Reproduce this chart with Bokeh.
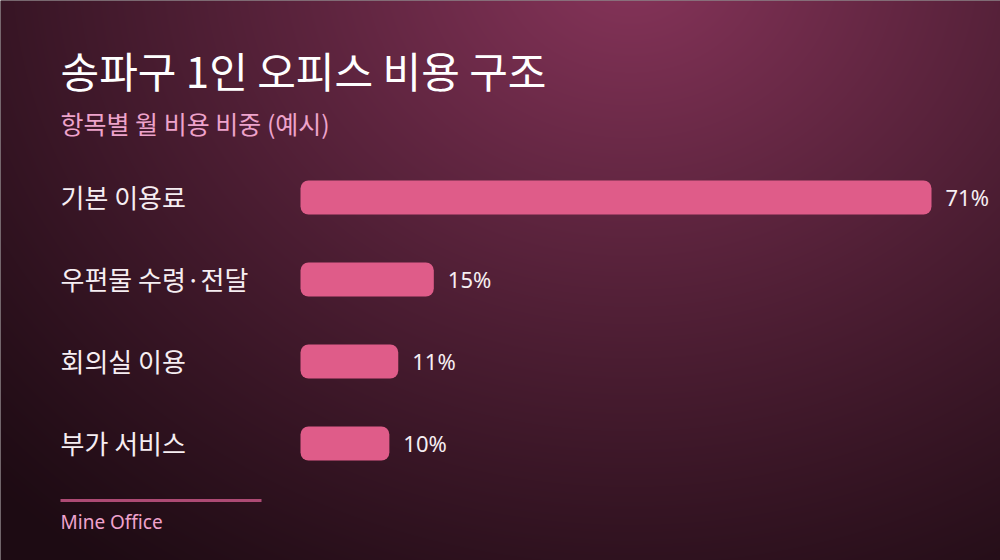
import numpy as np
from bokeh.plotting import figure
from bokeh.models import Range1d, Label
from bokeh.core.properties import value
from bokeh.embed import file_html
from bokeh.resources import INLINE

# ---- data ----
categories = ["기본 이용료", "우편물 수령·전달", "회의실 이용", "부가 서비스"]
shares = [71, 15, 11, 10]
value_labels = [f"{v}%" for v in shares]
title_text = "송파구 1인 오피스 비용 구조"
subtitle_text = "항목별 월 비용 비중 (예시)"
footer_text = "Mine Office"

# ---- layout (pixels) ----
W, H = 1000, 560
BAR_X0 = 300          # pixel where 0% sits
PX_PER_UNIT = 631 / 71
ROW0 = 197            # pixel centre of first bar
ROW_STEP = 82
BAR_H_PX = 34
FONT = "Noto Sans CJK KR"
LATIN = "Noto Sans"


def fx(px):
    return (px - BAR_X0) / PX_PER_UNIT


def fy(py):
    return (py - ROW0) / ROW_STEP


p = figure(width=W, height=H, output_backend="svg", toolbar_location=None,
           x_range=Range1d(fx(0), fx(W)), y_range=Range1d(fy(H), fy(0)),
           min_border=0, outline_line_color=None)
p.xaxis.visible = False
p.yaxis.visible = False
p.xgrid.visible = False
p.ygrid.visible = False
p.background_fill_color = "#1d0b13"
p.border_fill_color = "#1d0b13"

# ---- background gradient ----
yy, xx = np.mgrid[0:H, 0:W].astype(float)
d = np.sqrt(((xx - 630) / 1.0) ** 2 + ((yy + 40) / 0.85) ** 2)
t = np.clip(1 - d / 900, 0, 1) ** 1.15
dark = np.array([29, 11, 19], dtype=float)
light = np.array([136, 53, 91], dtype=float)
img = np.empty((H, W), dtype=np.uint32)
view = img.view(dtype=np.uint8).reshape((H, W, 4))
for c in range(3):
    view[:, :, c] = (dark[c] + (light[c] - dark[c]) * t).astype(np.uint8)
view[:, :, 3] = 255
p.image_rgba(image=[img], x=fx(0), y=fy(0), dw=fx(W) - fx(0), dh=fy(H) - fy(0))

# ---- bars ----
idx = list(range(len(categories)))
p.hbar(y=idx, left=0, right=shares, height=BAR_H_PX / ROW_STEP,
       fill_color="#df5c89", line_color=None, border_radius=8)

# ---- category labels ----
p.text(x=[fx(60)] * len(categories), y=idx, text=categories, y_offset=-1,
       text_font=value(FONT), text_font_size="26px", text_color="#f6eef2",
       text_baseline="middle", text_align="left")

# ---- value labels ----
p.text(x=shares, y=idx, text=value_labels, x_offset=14, y_offset=-1,
       text_font=value(LATIN), text_font_size="22px", text_color="#f6eef2",
       text_baseline="middle", text_align="left")

# ---- title / subtitle ----
p.add_layout(Label(x=fx(60), y=fy(69), text=title_text, text_font=FONT,
                   text_font_size="42px", text_color="#ffffff",
                   text_baseline="middle", text_align="left"))
p.add_layout(Label(x=fx(60), y=fy(122), text=subtitle_text, text_font=FONT,
                   text_font_size="25px", text_color="#eea3cb",
                   text_baseline="middle", text_align="left"))

# ---- footer ----
p.segment(x0=[fx(60)], y0=[fy(500)], x1=[fx(261)], y1=[fy(500)],
          line_color="#ad4a74", line_width=3)
p.add_layout(Label(x=fx(60), y=fy(521), text=footer_text, text_font=LATIN,
                   text_font_size="19px", text_color="#f0a3cd",
                   text_baseline="middle", text_align="left"))

html = file_html(p, INLINE)
html = html.replace("<body>", '<body style="margin:0;background:#1d0b13;overflow:hidden">', 1)
open("out.html", "w").write(html)
